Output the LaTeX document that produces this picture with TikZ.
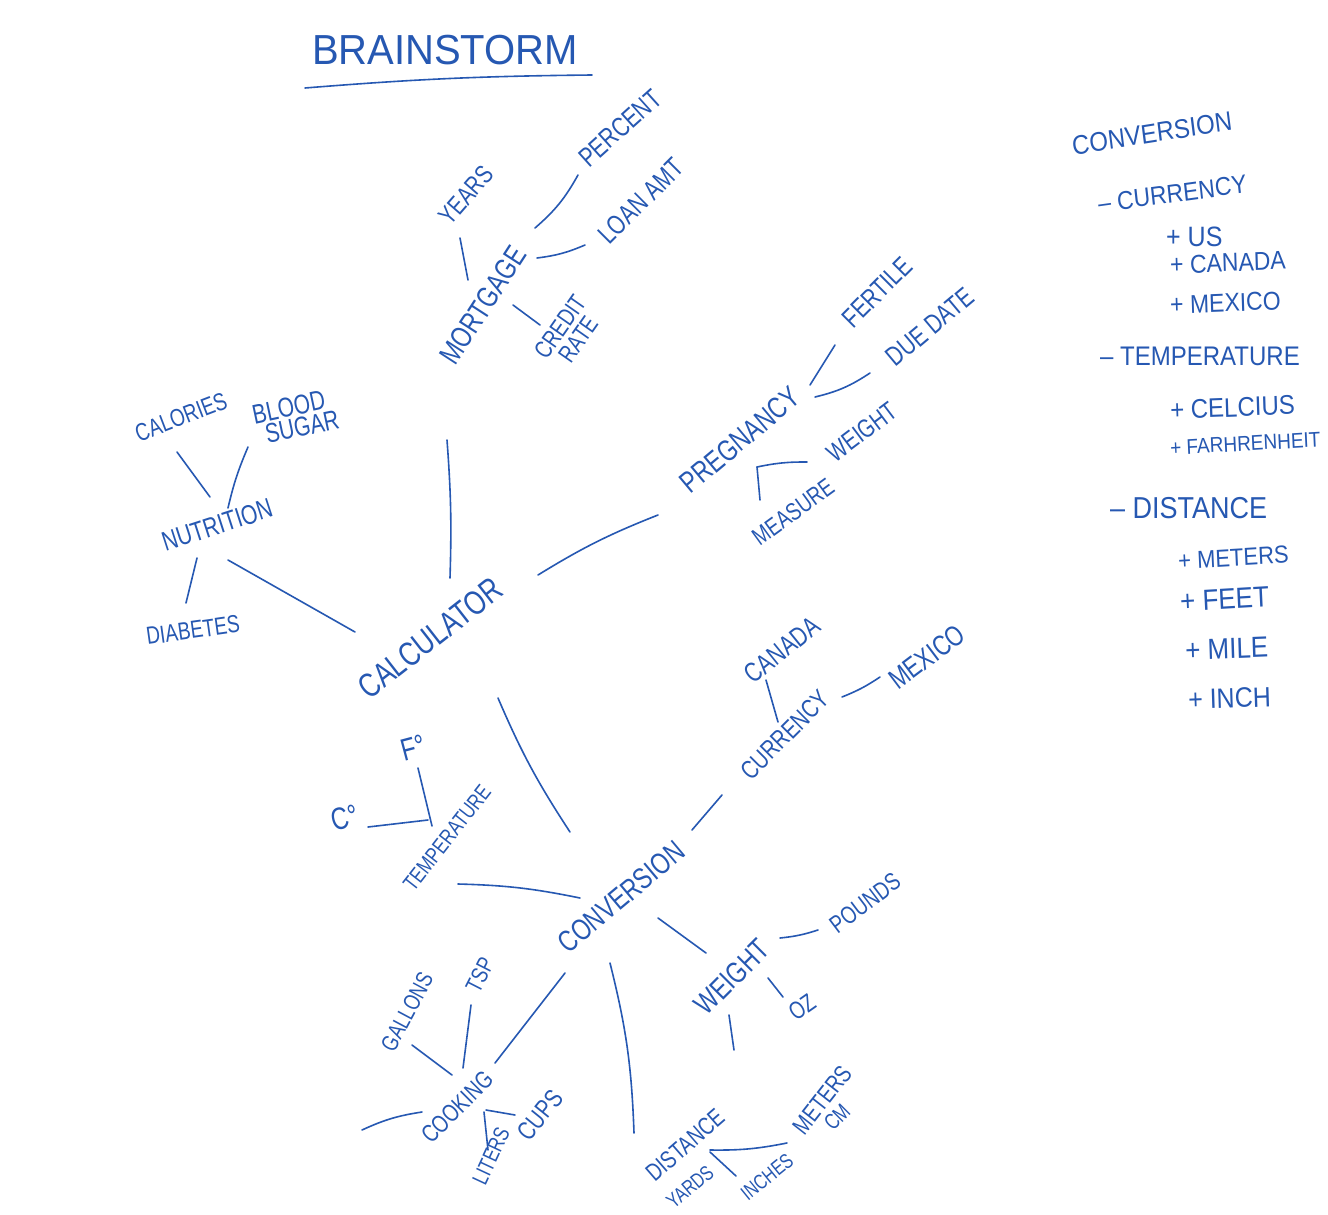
\documentclass[tikz,border=0pt]{standalone}
\usepackage{fontspec}
\setmainfont{Liberation Sans}
\definecolor{ink}{RGB}{38,88,178}
\newcommand\fsz[1]{\fontsize{#1}{#1}\selectfont}
\newcommand\mylink[4]{\coordinate (#1a) at (#2); \coordinate (#1b) at (#3); \draw[conn] (#1a) to[bend left=#4] (#1b);}
\begin{document}
\begin{tikzpicture}[x=1pt,y=-1pt,
  lbl/.style={text=ink, inner sep=0pt, align=center},
  tall/.style={yscale=1.3},
  lst/.style={text=ink, inner sep=0pt, anchor=west, yscale=1.12},
  conn/.style={draw=ink, line width=1.6pt, line cap=round}]
\path[use as bounding box, fill=white] (0,0) rectangle (1328,1215);
% title
\node[lbl, font=\fsz{40}, yscale=1.05] (title) at (445,50) {BRAINSTORM};
\mylink{ul}{305,88}{592,75}{2}
% mortgage cluster
\node[lbl, font=\fsz{20}, rotate=49, tall] (years) at (466,195) {YEARS};
\node[lbl, font=\fsz{21}, rotate=42, tall] (percent) at (620,128) {PERCENT};
\node[lbl, font=\fsz{21}, rotate=45, tall] (loan) at (641,201) {LOAN AMT};
\node[lbl, font=\fsz{23}, rotate=57, tall] (mort) at (483,305) {MORTGAGE};
\node[lbl, font=\fsz{19}, rotate=55, tall] (credit) at (569,333) {CREDIT\\[-2pt]RATE};
\mylink{l1}{460,238}{468,280}{0}
\mylink{l2}{535,228}{578,175}{-10}
\mylink{l3}{537,258}{585,245}{-8}
\mylink{l4}{513,305}{540,325}{0}
\mylink{l5}{447,440}{450,578}{3}
% pregnancy cluster
\node[lbl, font=\fsz{23}, rotate=40, tall] (preg) at (740,440) {PREGNANCY};
\node[lbl, font=\fsz{21}, rotate=45, tall] (fertile) at (877,292) {FERTILE};
\node[lbl, font=\fsz{21}, rotate=40, tall] (due) at (930,327) {DUE DATE};
\node[lbl, font=\fsz{20}, rotate=37, tall] (pweight) at (862,432) {WEIGHT};
\node[lbl, font=\fsz{19}, rotate=36, tall] (measure) at (793,512) {MEASURE};
\mylink{l6}{538,575}{658,515}{5}
\mylink{l7}{810,385}{835,345}{0}
\mylink{l8}{815,397}{870,373}{-10}
\mylink{l9}{757,467}{807,462}{6}
\mylink{l10}{757,467}{760,500}{0}
% nutrition cluster
\node[lbl, font=\fsz{19}, rotate=21, tall] (cal) at (181,417) {CALORIES};
\node[lbl, font=\fsz{21}, rotate=12, tall] (blood) at (291,418) {BLOOD\\[-4pt]\hspace*{18pt}SUGAR};
\node[lbl, font=\fsz{21}, rotate=18, tall] (nutr) at (217,525) {NUTRITION};
\node[lbl, font=\fsz{19}, rotate=8, tall] (diab) at (193,630) {DIABETES};
\mylink{l11}{177,452}{210,497}{0}
\mylink{l12}{248,447}{228,508}{-5}
\mylink{l13}{197,558}{186,603}{0}
\mylink{l14}{228,560}{355,632}{0}
% calculator
\node[lbl, font=\fsz{26}, rotate=38, tall] (calc) at (430,638) {CALCULATOR};
\mylink{l15}{498,698}{570,832}{-5}
% temperature
\node[lbl, font=\fsz{24}, rotate=15, tall] (fdeg) at (413,748) {F°};
\node[lbl, font=\fsz{24}, rotate=15, tall] (cdeg) at (345,818) {C°};
\node[lbl, font=\fsz{17}, rotate=52, tall] (temp) at (447,838) {TEMPERATURE};
\mylink{l16}{418,768}{432,826}{0}
\mylink{l17}{368,827}{428,820}{0}
\mylink{l18}{458,884}{580,898}{5}
% conversion
\node[lbl, font=\fsz{23}, rotate=40, tall] (conv) at (621,897) {CONVERSION};
\node[lbl, font=\fsz{20}, rotate=45, tall] (curr) at (785,735) {CURRENCY};
\node[lbl, font=\fsz{21}, rotate=39, tall] (canada) at (782,650) {CANADA};
\node[lbl, font=\fsz{22}, rotate=37, tall] (mexico) at (927,657) {MEXICO};
\mylink{l19}{692,830}{722,795}{0}
\mylink{l20}{766,680}{778,722}{0}
\mylink{l21}{842,697}{880,677}{-6}
% weight
\node[lbl, font=\fsz{23}, rotate=45, tall] (cweight) at (732,977) {WEIGHT};
\node[lbl, font=\fsz{19}, rotate=37, tall] (pounds) at (865,903) {POUNDS};
\node[lbl, font=\fsz{19}, rotate=35, tall] (oz) at (802,1007) {OZ};
\mylink{l22}{658,918}{706,953}{0}
\mylink{l23}{780,938}{818,930}{-6}
\mylink{l24}{768,978}{783,997}{0}
\mylink{l25}{729,1015}{734,1050}{0}
% distance
\node[lbl, font=\fsz{19}, rotate=41, tall] (dist) at (685,1145) {DISTANCE};
\node[lbl, font=\fsz{16}, rotate=40, tall] (yards) at (690,1187) {YARDS};
\node[lbl, font=\fsz{16}, rotate=39, tall] (inches) at (767,1177) {INCHES};
\node[lbl, font=\fsz{19}, rotate=52, tall] (meters) at (822,1100) {METERS};
\node[lbl, font=\fsz{17}, rotate=45, tall] (cm) at (837,1117) {CM};
\mylink{l26}{610,963}{634,1133}{6}
\mylink{l27}{710,1150}{787,1143}{-6}
\mylink{l28}{710,1152}{736,1176}{0}
% cooking
\node[lbl, font=\fsz{18}, rotate=62, tall] (gallons) at (407,1012) {GALLONS};
\node[lbl, font=\fsz{18}, rotate=63, tall] (tsp) at (480,975) {TSP};
\node[lbl, font=\fsz{19}, rotate=45, tall] (cook) at (457,1107) {COOKING};
\node[lbl, font=\fsz{17}, rotate=65, tall] (liters) at (491,1156) {LITERS};
\node[lbl, font=\fsz{20}, rotate=51, tall] (cups) at (540,1115) {CUPS};
\mylink{l29}{565,973}{495,1063}{0}
\mylink{l30}{412,1045}{452,1075}{0}
\mylink{l31}{471,1005}{463,1068}{0}
\mylink{l32}{362,1130}{422,1112}{8}
\mylink{l33}{484,1112}{488,1150}{0}
\mylink{l34}{486,1110}{515,1115}{0}
% right list
\node[lst, font=\fsz{24}, rotate=8] (rconv) at (1072,146) {CONVERSION};
\node[lst, font=\fsz{23}, rotate=7] (rcurr) at (1098,204) {– CURRENCY};
\node[lst, font=\fsz{25}] (rus) at (1166,237) {+ US};
\node[lst, font=\fsz{23}, rotate=2] (rcan) at (1170,265) {+ CANADA};
\node[lst, font=\fsz{23}, rotate=2] (rmex) at (1170,305) {+ MEXICO};
\node[lst, font=\fsz{24}] (rtemp) at (1100,356) {– TEMPERATURE};
\node[lst, font=\fsz{24}, rotate=2] (rcel) at (1170,410) {+ CELCIUS};
\node[lst, font=\fsz{19}, rotate=3] (rfah) at (1170,448) {+ FARHRENHEIT};
\node[lst, font=\fsz{27}] (rdist) at (1110,508) {– DISTANCE};
\node[lst, font=\fsz{22}, rotate=3] (rmet) at (1178,561) {+ METERS};
\node[lst, font=\fsz{26}, rotate=3] (rfeet) at (1180,602) {+ FEET};
\node[lst, font=\fsz{26}, rotate=2] (rmile) at (1185,650) {+ MILE};
\node[lst, font=\fsz{25}, rotate=2] (rinch) at (1188,700) {+ INCH};
\end{tikzpicture}
\end{document}
